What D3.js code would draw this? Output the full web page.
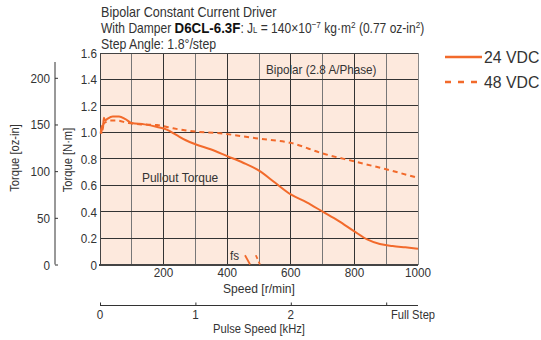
<!DOCTYPE html>
<html><head><meta charset="utf-8">
<script src="https://cdn.jsdelivr.net/npm/d3@7/dist/d3.min.js"></script>
<style>
body{margin:0;background:#fff;}
svg text{font-family:"Liberation Sans",Arial,sans-serif;fill:#333;}
</style></head>
<body>
<svg id="c" width="541" height="340"></svg>
<script>
// ---- data ----
const speedTicks = [200, 400, 600, 800, 1000];
const torqueTicks = [0, 0.2, 0.4, 0.6, 0.8, 1.0, 1.2, 1.4, 1.6];
const ozTicks = [0, 50, 100, 150, 200];
const pulseTicks = [0, 1, 2, 3];
const pulseLabels = ["0", "1", "2", ""];
const seriesNames = ["24 VDC", "48 VDC"];
// speed [r/min], torque [N·m]
const torque24 = [
  [2,0.99],[6,1.05],[9,1.02],[12,1.11],[16,1.09],[22,1.10],[40,1.12],[60,1.12],[80,1.10],
  [100,1.07],[140,1.06],[180,1.04],[210,1.02],[240,0.98],[270,0.94],[300,0.91],[350,0.87],
  [400,0.82],[450,0.77],[500,0.71],[550,0.62],[600,0.53],[650,0.47],[700,0.40],[750,0.33],
  [800,0.25],[840,0.19],[880,0.155],[920,0.14],[960,0.13],[1000,0.12]
];
const torque48 = [
  [4,0.99],[6,1.04],[10,1.06],[20,1.08],[30,1.09],[50,1.09],[90,1.07],[130,1.06],[180,1.055],
  [230,1.03],[283,1.01],[388,0.99],[490,0.955],[600,0.92],[700,0.84],[800,0.78],[900,0.72],[1000,0.655]
];
const fs24 = [[456,0.07],[472,0]];
const fs48 = [[490,0.07],[503,0]];

const orange = "#f26a2b";
const svg = d3.select("#c");

// condensed text helper (horizontal squeeze to mimic the condensed face)
function T(parent, x, y, s, o = {}) {
  const size = o.size || 13, sx = o.sx || 0.85, rot = o.rot || 0;
  return parent.append("text")
    .attr("transform", `translate(${x},${y}) rotate(${rot}) scale(${sx},1)`)
    .attr("font-size", size).attr("text-anchor", o.anchor || "start").text(s);
}

const x = d3.scaleLinear().domain([0,1000]).range([100,418]);
const y = d3.scaleLinear().domain([0,1.6]).range([264.5,53]);
const OZ = 0.00706155;
const yOz = d3.scaleLinear().domain([0,200]).range([y(0), y(200*OZ)]);
const xP = d3.scaleLinear().domain([0,1000/300]).range([100,418]);

// plot background
svg.append("rect").attr("x",x(0)).attr("y",y(1.6)).attr("width",x(1000)-x(0)).attr("height",y(0)-y(1.6)).attr("fill","#fde9dd");

// grid
const g = svg.append("g").attr("shape-rendering","crispEdges");
g.selectAll(".vg").data(d3.range(100,1000,100)).enter().append("line")
  .attr("x1",d=>x(d)).attr("x2",d=>x(d)).attr("y1",y(1.6)).attr("y2",y(0))
  .attr("stroke",(d,i)=> i%2===0 ? "#777" : "#333").attr("stroke-width",1);
g.selectAll(".hg").data(torqueTicks.slice(1,-1)).enter().append("line")
  .attr("x1",x(0)).attr("x2",x(1000)).attr("y1",d=>y(d)).attr("y2",d=>y(d))
  .attr("stroke","#333").attr("stroke-width",1);
// border
g.append("line").attr("x1",x(0)).attr("x2",x(1000)).attr("y1",y(1.6)).attr("y2",y(1.6)).attr("stroke","#444");
g.append("line").attr("x1",x(1000)).attr("x2",x(1000)).attr("y1",y(1.6)).attr("y2",y(0)).attr("stroke","#888");
g.append("line").attr("x1",x(0)).attr("x2",x(0)).attr("y1",y(1.6)).attr("y2",y(0)).attr("stroke","#444");
g.append("line").attr("x1",x(0)-1).attr("x2",x(1000)).attr("y1",y(0)).attr("y2",y(0)).attr("stroke","#444").attr("stroke-width",2);

// Torque N·m labels
torqueTicks.forEach(d => T(svg, 97, y(d)+5, d===0?"0":d3.format(".1f")(d), {anchor:"end", sx:0.9}));

// speed labels
speedTicks.forEach(d => T(svg, x(d), 277, String(d), {anchor:"middle", sx:0.9}));
T(svg, 259, 293, "Speed [r/min]", {anchor:"middle", sx:0.93});

// oz-in axis
const ozAxis = d3.axisRight(yOz).tickValues(ozTicks).tickSize(3).tickFormat("");
const oz = svg.append("g").attr("transform","translate(55,0)").call(ozAxis);
oz.select(".domain").attr("d",`M0,62V${y(0)}`).attr("stroke","#333");
oz.selectAll(".tick line").attr("stroke","#333");
ozTicks.forEach(d => T(svg, 50, yOz(d)+5, String(d), {anchor:"end", sx:0.9}));

T(svg, 19, 158, "Torque [oz-in]", {anchor:"middle", rot:-90, sx:0.86, size:13});
T(svg, 72, 160, "Torque [N·m]", {anchor:"middle", rot:-90, sx:0.86, size:13});

// pulse speed axis
const pAxis = d3.axisTop(xP).tickValues(pulseTicks).tickSize(3).tickFormat("");
const pa = svg.append("g").attr("transform","translate(0,305.5)").call(pAxis);
pa.select(".domain").attr("d",`M${xP(0)},0H418`).attr("stroke","#333");
pa.selectAll(".tick line").attr("stroke","#333");
pulseTicks.forEach((d,i) => { if (pulseLabels[i]) T(svg, xP(d), 318.5, pulseLabels[i], {anchor:"middle", sx:0.9}); });
T(svg, 391, 318.5, "Full Step", {sx:0.86});
T(svg, 259, 333, "Pulse Speed [kHz]", {anchor:"middle", sx:0.86});

// curves
const line = d3.line().x(d=>x(d[0])).y(d=>y(d[1])).curve(d3.curveMonotoneX);
svg.append("path").attr("d",line(torque48)).attr("fill","none").attr("stroke",orange).attr("stroke-width",2).attr("stroke-dasharray","5,4");
svg.append("path").attr("d",line(torque24)).attr("fill","none").attr("stroke",orange).attr("stroke-width",2);
const lin = d3.line().x(d=>x(d[0])).y(d=>y(d[1]));
svg.append("path").attr("d",lin(fs24)).attr("fill","none").attr("stroke",orange).attr("stroke-width",1.8);
svg.append("path").attr("d",lin(fs48)).attr("fill","none").attr("stroke",orange).attr("stroke-width",1.8).attr("stroke-dasharray","4,3");

// annotations
T(svg, 266, 74, "Bipolar (2.8 A/Phase)", {sx:0.9});
T(svg, 142, 182, "Pullout Torque", {sx:0.92});
T(svg, 230, 260, "fs", {sx:0.9});

// title
T(svg, 101, 17, "Bipolar Constant Current Driver", {size:14, sx:0.9});
const t2 = T(svg, 101, 33, "", {size:14, sx:0.86});
t2.append("tspan").text("With Damper ");
t2.append("tspan").attr("font-weight","bold").attr("font-size",15.5).style("fill","#111").text("D6CL-6.3F");
t2.append("tspan").text(": J");
t2.append("tspan").attr("font-size",9).text("L");
t2.append("tspan").text(" = 140×10");
t2.append("tspan").attr("font-size",9.5).attr("dy",-5).text("−7");
t2.append("tspan").attr("dy",5).text(" kg·m");
t2.append("tspan").attr("font-size",9.5).attr("dy",-5).text("2");
t2.append("tspan").attr("dy",5).text(" (0.77 oz-in");
t2.append("tspan").attr("font-size",9.5).attr("dy",-5).text("2");
t2.append("tspan").attr("dy",5).text(")");
T(svg, 101, 48.5, "Step Angle: 1.8°/step", {size:14, sx:0.88});

// legend
const leg = svg.append("g");
seriesNames.forEach((n,i)=>{
  const yy = 57 + i*25;
  leg.append("line").attr("x1",445).attr("x2",482).attr("y1",yy).attr("y2",yy)
    .attr("stroke",orange).attr("stroke-width",2.5).attr("stroke-dasharray", i===1 ? "6,7" : null);
  T(leg, 484, yy+6, n, {size:17, sx:0.93});
});
</script>
</body></html>
